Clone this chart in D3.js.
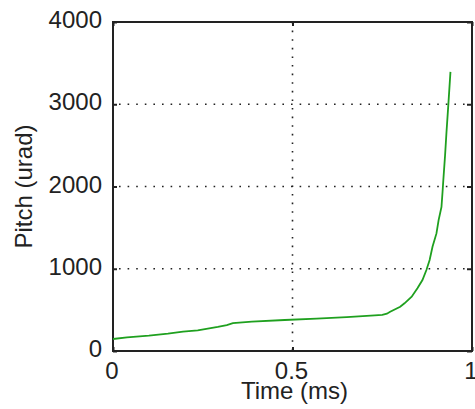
<!DOCTYPE html>
<html>
<head>
<meta charset="utf-8">
<script src="https://cdn.jsdelivr.net/npm/d3@7"></script>
<style>
	body { margin: 0; background: #fff; }
	#chart { width: 475px; height: 409px; }
	.lbl { font-family: "Liberation Sans", Arial, sans-serif; font-size: 24px; fill: #222; }
</style>
</head>
<body>
<div id="chart"></div>
<script>
// time (ms) and pitch (urad)
var timeMs = [0, 0.039, 0.1, 0.153, 0.195, 0.236, 0.264, 0.292, 0.317, 0.334, 0.387, 0.478,
	0.567, 0.651, 0.729, 0.75, 0.763, 0.772, 0.8, 0.812, 0.832, 0.848, 0.862, 0.873, 0.882,
	0.89, 0.901, 0.907, 0.915, 0.918, 0.92, 0.925, 0.929, 0.934, 0.94];
var pitch = [146, 166, 186, 210, 235, 251, 271, 292, 316, 340, 356, 377,
	393, 413, 434, 440, 453, 477, 538, 580, 660, 762, 863, 984, 1106,
	1267, 1430, 1592, 1753, 1936, 2070, 2380, 2665, 2989, 3394];
var xTicks = [0, 0.5, 1];
var xTickLabels = ["0", "0.5", "1"];
var yTicks = [0, 1000, 2000, 3000, 4000];

var width = 475, height = 409;
var plotL = 113, plotR = 472, plotT = 22, plotB = 351;

var svg = d3.select("#chart")
	.append("svg")
	.attr("width", width)
	.attr("height", height);

var x = d3.scaleLinear().domain([0, 1]).range([plotL, plotR]);
var y = d3.scaleLinear().domain([0, 4000]).range([plotB, plotT]);

// dotted grid
svg.selectAll(".gx")
	.data([0.5])
	.enter()
	.append("line")
	.attr("x1", function(d) { return x(d); })
	.attr("x2", function(d) { return x(d); })
	.attr("y1", plotT)
	.attr("y2", plotB)
	.attr("stroke", "#222")
	.attr("stroke-width", 1.6)
	.attr("stroke-dasharray", "1.6,7");

svg.selectAll(".gy")
	.data([1000, 2000, 3000])
	.enter()
	.append("line")
	.attr("x1", plotL)
	.attr("x2", plotR)
	.attr("y1", function(d) { return y(d); })
	.attr("y2", function(d) { return y(d); })
	.attr("stroke", "#222")
	.attr("stroke-width", 1.6)
	.attr("stroke-dasharray", "1.6,7")
	.attr("stroke-dashoffset", -6);

// axes with inside ticks
var yAxisL = d3.axisRight(y).tickValues(yTicks).tickSize(4).tickFormat("");
var yAxisR = d3.axisLeft(y).tickValues(yTicks).tickSize(5).tickFormat("");
var xAxisB = d3.axisTop(x).tickValues(xTicks).tickSize(4).tickFormat("");
var xAxisT = d3.axisBottom(x).tickValues(xTicks).tickSize(4).tickFormat("");

svg.append("g").attr("transform", "translate(" + plotL + ",0)").call(yAxisL);
svg.append("g").attr("transform", "translate(" + plotR + ",0)").call(yAxisR);
svg.append("g").attr("transform", "translate(0," + plotB + ")").call(xAxisB);
svg.append("g").attr("transform", "translate(0," + plotT + ")").call(xAxisT);
svg.selectAll(".domain").remove();
svg.selectAll(".tick line").attr("stroke", "#222").attr("stroke-width", 2);

// frame
svg.append("rect")
	.attr("x", plotL)
	.attr("y", plotT)
	.attr("width", plotR - plotL)
	.attr("height", plotB - plotT)
	.attr("fill", "none")
	.attr("stroke", "#222")
	.attr("stroke-width", 2);

// tick labels
svg.selectAll(".ylab")
	.data(yTicks)
	.enter()
	.append("text")
	.attr("class", "lbl")
	.attr("x", 102)
	.attr("y", function(d) { return y(d) + 6; })
	.attr("text-anchor", "end")
	.text(function(d) { return d; });

svg.selectAll(".xlab")
	.data(xTicks)
	.enter()
	.append("text")
	.attr("class", "lbl")
	.attr("x", function(d) { return x(d) - 1; })
	.attr("y", 379)
	.attr("text-anchor", "middle")
	.text(function(d, i) { return xTickLabels[i]; });

svg.append("text")
	.attr("class", "lbl")
	.attr("x", x(0.5) + 2)
	.attr("y", 399)
	.attr("text-anchor", "middle")
	.text("Time (ms)");

svg.append("text")
	.attr("class", "lbl")
	.attr("transform", "translate(32," + ((plotT + plotB) / 2) + ") rotate(-90)")
	.attr("text-anchor", "middle")
	.text("Pitch (urad)");

// data line
var line = d3.line()
	.x(function(d, i) { return x(timeMs[i]); })
	.y(function(d) { return y(d); });

svg.append("path")
	.datum(pitch)
	.attr("d", line)
	.attr("fill", "none")
	.attr("stroke", "#1fa01f")
	.attr("stroke-width", 1.8);
</script>
</body>
</html>
